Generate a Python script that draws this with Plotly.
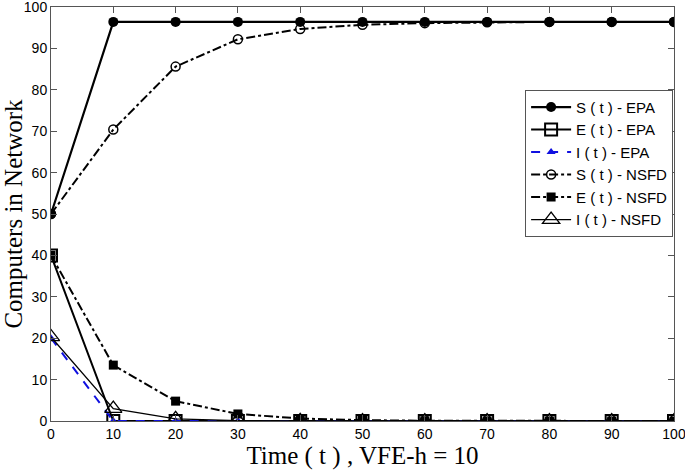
import plotly.graph_objects as go

t = [0, 10, 20, 30, 40, 50, 60, 70, 80, 90, 100]
S_epa = [50, 96.4, 96.4, 96.4, 96.4, 96.4, 96.4, 96.4, 96.4, 96.4, 96.4]
E_epa = [40, 0, 0, 0, 0, 0, 0, 0, 0, 0, 0]
I_epa = [20, 0, 0, 0, 0, 0, 0, 0, 0, 0, 0]
S_nsfd = [50, 70.4, 85.6, 92.2, 94.7, 95.7, 96.1, 96.3, 96.4, 96.4, 96.4]
E_nsfd = [40, 13.5, 4.8, 1.7, 0.6, 0.2, 0.07, 0.03, 0.01, 0, 0]
I_nsfd = [20.3, 3.0, 0.5, 0.1, 0.02, 0, 0, 0, 0, 0, 0]

x_ticks = [0, 10, 20, 30, 40, 50, 60, 70, 80, 90, 100]
y_ticks = [0, 10, 20, 30, 40, 50, 60, 70, 80, 90, 100]

fig = go.Figure()
fig.add_trace(go.Scatter(x=t, y=S_epa, name="S ( t ) - EPA", mode="lines+markers", legendgroup="a",
                         line=dict(color="black", width=2.2),
                         marker=dict(symbol="circle", size=10, color="black")))
fig.add_trace(go.Scatter(x=t, y=E_epa, name="E ( t ) - EPA", mode="lines+markers", legendgroup="b",
                         line=dict(color="black", width=2),
                         marker=dict(symbol="square-open", size=12, color="black", line=dict(width=2))))
fig.add_trace(go.Scatter(x=t, y=I_epa, name="I ( t ) - EPA", mode="lines+markers", legendgroup="c",
                         line=dict(color="#1010e0", width=2, dash="dash"),
                         marker=dict(symbol="triangle-up", size=8, color="#1010e0")))
fig.add_trace(go.Scatter(x=t, y=S_nsfd, name="S ( t ) - NSFD", mode="lines+markers", legendgroup="d",
                         line=dict(color="black", width=2, dash="dashdot"),
                         marker=dict(symbol="circle-open", size=9, color="black", line=dict(width=1.5))))
fig.add_trace(go.Scatter(x=t, y=E_nsfd, name="E ( t ) - NSFD", mode="lines+markers", legendgroup="e",
                         line=dict(color="black", width=2, dash="dashdot"),
                         marker=dict(symbol="square", size=9, color="black")))
fig.add_trace(go.Scatter(x=t, y=I_nsfd, name="I ( t ) - NSFD", mode="lines+markers", legendgroup="f",
                         line=dict(color="black", width=1.3),
                         marker=dict(symbol="triangle-up-open", size=15, color="black", line=dict(width=1.3))))

axis_common = dict(showgrid=False, zeroline=False, showline=True, linecolor="#555555", linewidth=1,
                   mirror="ticks", ticks="inside", ticklen=6, tickcolor="#555555", automargin=False,
                   ticklabeloverflow="allow",
                   tickfont=dict(family="Liberation Sans, Arial", size=14, color="black"))

fig.update_xaxes(range=[0, 100], tickvals=x_ticks, ticktext=[str(v) for v in x_ticks],
                 title=dict(text="Time ( t ) , VFE-h = 10", standoff=0,
                            font=dict(family="Liberation Serif, Times New Roman", size=25, color="black")),
                 **axis_common)
fig.update_yaxes(range=[0, 100], tickvals=y_ticks, ticktext=[str(v) for v in y_ticks],
                 title=dict(text="Computers in Network", standoff=2,
                            font=dict(family="Liberation Serif, Times New Roman", size=25, color="black")),
                 **axis_common)

fig.update_layout(
    width=685, height=472,
    margin=dict(l=51, r=11, t=7, b=51),
    plot_bgcolor="white", paper_bgcolor="white",
    legend=dict(x=0.761, y=0.80, xanchor="left", yanchor="top",
                bgcolor="white", bordercolor="#555555", borderwidth=1,
                font=dict(family="Liberation Sans, Arial", size=15, color="black"),
                traceorder="grouped", tracegroupgap=0, itemwidth=40),
)

fig.write_html("out.html", config={"displayModeBar": False},
               post_script="document.body.style.margin='0';")
